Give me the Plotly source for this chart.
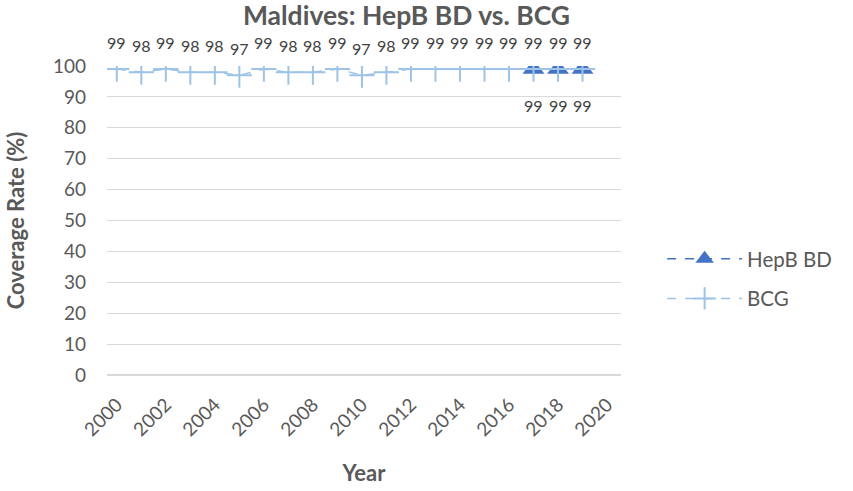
import plotly.graph_objects as go

years_bcg = list(range(2000, 2020))
bcg = [99, 98, 99, 98, 98, 97, 99, 98, 98, 99, 97, 98, 99, 99, 99, 99, 99, 99, 99, 99]
years_hepb = [2017, 2018, 2019]
hepb = [99, 99, 99]
x_ticks = list(range(2000, 2021, 2))
y_ticks = list(range(0, 101, 10))

FONT = "Lato"
GRAY = "#595959"

fig = go.Figure()
fig.add_trace(go.Scatter(
    x=years_hepb, y=hepb, name="HepB BD", mode="lines+markers", legendgroup="a",
    line=dict(color="#4472C4", width=1.5, dash="dash"),
    marker=dict(symbol="triangle-up", size=19, color="#4472C4"),
))
fig.add_trace(go.Scatter(
    x=years_bcg, y=bcg, name="BCG", mode="lines+markers", legendgroup="b",
    line=dict(color="#9DC3E6", width=1.5, dash="dash"),
    marker=dict(symbol="cross-thin", size=18, line=dict(color="#9DC3E6", width=2)),
))

for xv, yv in zip(years_bcg, bcg):
    fig.add_annotation(x=xv, y=yv, text=str(yv), showarrow=False, yshift=27,
                       font=dict(family=FONT, size=16, color="#404040"))
for xv, yv in zip(years_hepb, hepb):
    fig.add_annotation(x=xv, y=yv, text=str(yv), showarrow=False, yshift=-36,
                       font=dict(family=FONT, size=16, color="#404040"))

fig.update_layout(
    width=853, height=491,
    paper_bgcolor="white", plot_bgcolor="white",
    margin=dict(l=107, r=232, t=66, b=116),
    font=dict(family=FONT, color=GRAY, size=19),
    title=dict(text="<b>Maldives: HepB BD vs. BCG</b>", x=0.4765, xanchor="center",
               y=0.986, yanchor="top", font=dict(family=FONT, size=26.5, color=GRAY)),
    xaxis=dict(range=[1999.6, 2020.57], tickvals=x_ticks, ticktext=[str(v) for v in x_ticks],
               tickangle=-45, showgrid=False, showline=False, zeroline=False,
               ticks="", tickfont=dict(size=19, color=GRAY), automargin=False,
               ticklabelstandoff=14,
               title=dict(text="<b>Year</b>", font=dict(size=22, color=GRAY), standoff=26)),
    yaxis=dict(range=[0, 100], tickvals=y_ticks, showgrid=True, gridcolor="#D9D9D9",
               gridwidth=1, zeroline=True, zerolinecolor="#D9D9D9", showline=False,
               ticks="", tickfont=dict(size=19, color=GRAY), automargin=False,
               ticklabelstandoff=20,
               title=dict(text="<b>Coverage Rate (%)</b>", font=dict(size=22, color=GRAY), standoff=22)),
    legend=dict(x=1.08, y=0.311, yanchor="middle", xanchor="left",
                font=dict(family=FONT, size=20.5, color=GRAY), itemwidth=75,
                tracegroupgap=10),
    showlegend=True,
)

fig.write_html("out.html", config={"displayModeBar": False},
               post_script="document.body.style.margin='0';")
